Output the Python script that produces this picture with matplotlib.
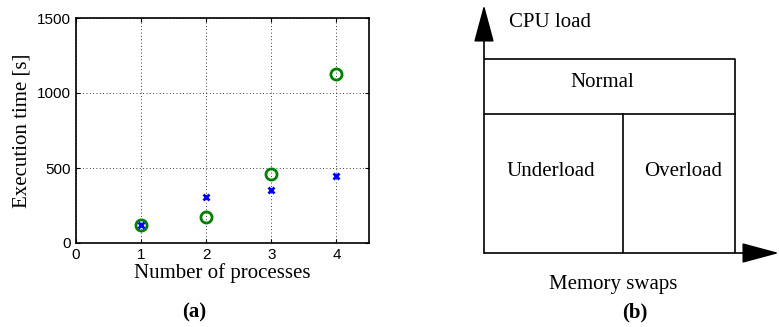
#!/usr/bin/env python3

import matplotlib
matplotlib.use("Agg")
import matplotlib.pyplot as plt

# (a) execution time vs number of processes
processes = [1, 2, 3, 4]
time_circle = [122, 175, 458, 1127]
time_cross = [120, 305, 356, 447]
xticks = [0, 1, 2, 3, 4]
yticks = [0, 500, 1000, 1500]

# (b) load regions
region_names = ["Normal", "Underload", "Overload"]
y_label_b = "CPU load"
x_label_b = "Memory swaps"

serif = "Liberation Serif"
sans = "Liberation Sans"

fig = plt.figure(figsize=(7.79, 3.27), dpi=100)

# ---- panel (a)
ax = fig.add_axes([76 / 779, 84 / 327, 293 / 779, 225 / 327])
ax.plot(processes, time_circle, "o", mfc="none", mec=(0, 0.5, 0), ms=8, mew=2)
ax.plot(processes, time_cross, "x", color="blue", ms=5, mew=2)
ax.set_xlim(0, 4.5)
ax.set_ylim(0, 1500)
ax.set_xticks(xticks)
ax.set_yticks(yticks)
ax.tick_params(direction="in", length=3, labelsize=11, top=True, right=True)
for lbl in ax.get_xticklabels() + ax.get_yticklabels():
    lbl.set_family(sans)
ax.grid(True, linestyle=(0, (1, 3)), color="black", linewidth=0.6)
for s in ax.spines.values():
    s.set_linewidth(1.2)
ax.set_xlabel("Number of processes", family=serif, fontsize=15, labelpad=1)
ax.set_ylabel("Execution time [s]", family=serif, fontsize=15, labelpad=4)
fig.text(194 / 779, 1 - 312 / 327, "(a)", family=serif, fontsize=15,
         fontweight="bold", ha="center", va="center")

# ---- panel (b)
bx = fig.add_axes([484 / 779, 74 / 327, 295 / 779, 248 / 327])
bx.set_xlim(0, 1.175)
bx.set_ylim(0, 1.278)
bx.axis("off")
split_y = 0.716
split_x = 0.554
lw = 1.2
bx.plot([0, 1, 1], [1, 1, 0], color="black", lw=lw)
bx.plot([0, 1], [split_y, split_y], color="black", lw=lw)
bx.plot([split_x, split_x], [0, split_y], color="black", lw=lw)
arrow = dict(arrowstyle="-|>,head_length=1.3,head_width=0.35", color="black",
             lw=lw, shrinkA=0, shrinkB=0, mutation_scale=18)
bx.annotate("", xy=(0, 1.278), xytext=(0, 0), arrowprops=arrow,
            annotation_clip=False)
bx.annotate("", xy=(1.175, 0), xytext=(0, 0), arrowprops=arrow,
            annotation_clip=False)

bx.text(0.263, 1.186, y_label_b, family=serif, fontsize=15, ha="center", va="center")
bx.text(0.47, 0.88, region_names[0], family=serif, fontsize=15, ha="center", va="center")
bx.text(0.267, 0.418, region_names[1], family=serif, fontsize=15, ha="center", va="center")
bx.text(0.793, 0.418, region_names[2], family=serif, fontsize=15, ha="center", va="center")
bx.text(0.514, -0.16, x_label_b, family=serif, fontsize=15, ha="center", va="center",
        clip_on=False)
bx.text(0.602, -0.304, "(b)", family=serif, fontsize=15, fontweight="bold",
        ha="center", va="center", clip_on=False)

fig.savefig("out.png", dpi=100)
